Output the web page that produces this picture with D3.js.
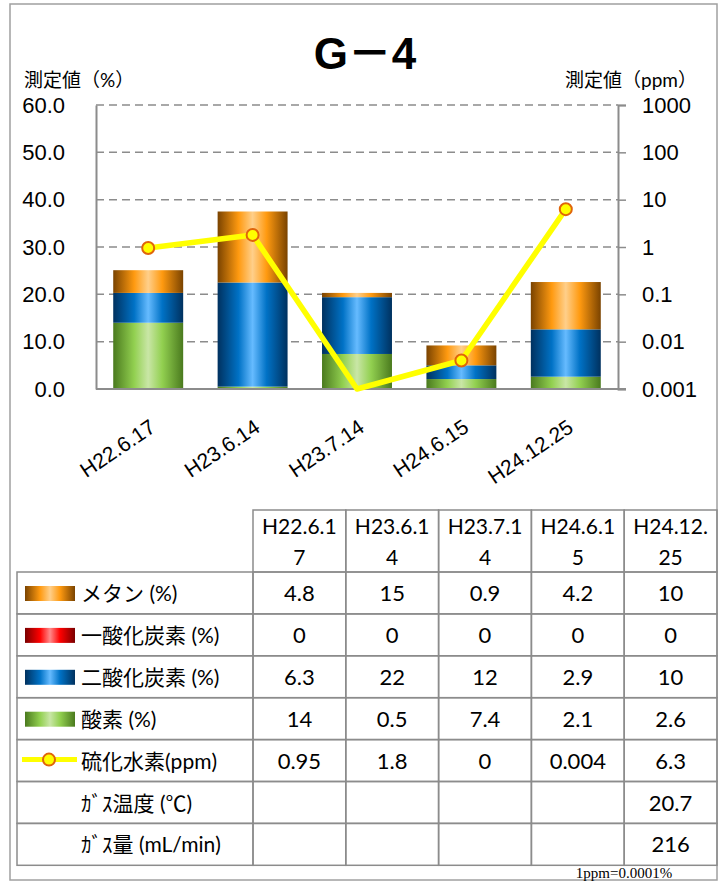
<!DOCTYPE html>
<html>
<head>
<meta charset="utf-8">
<script src="https://cdn.jsdelivr.net/npm/d3@7"></script>
<style>
	body { margin: 0; background: #fff; }
	svg { display: block; font-family: Lato, "Noto Sans CJK JP", sans-serif; }
</style>
</head>
<body>
<svg id="imagen" width="719" height="881"></svg>
<script>
var categories = ["H22.6.17", "H23.6.14", "H23.7.14", "H24.6.15", "H24.12.25"];
var metano = [4.8, 15, 0.9, 4.2, 10];
var monoxido = [0, 0, 0, 0, 0];
var dioxido = [6.3, 22, 12, 2.9, 10];
var oxigeno = [14, 0.5, 7.4, 2.1, 2.6];
var sulfuro = [0.95, 1.8, 0, 0.004, 6.3];
var temperatura = ["", "", "", "", "20.7"];
var caudal = ["", "", "", "", "216"];
var leftTicks = [0, 10, 20, 30, 40, 50, 60];
var rightTicks = [0.001, 0.01, 0.1, 1, 10, 100, 1000];

var series = [
	{ key: "oxigeno", values: oxigeno, grad: "gVerde" },
	{ key: "monoxido", values: monoxido, grad: "gRojo" },
	{ key: "dioxido", values: dioxido, grad: "gAzul" },
	{ key: "metano", values: metano, grad: "gNaranja" }
];

var margin = { top: 105, right: 101, bottom: 492, left: 96 };
var width = 719, height = 881;
const svg = d3.select("#imagen");

// gradientes horizontales tipo cilindro
var defs = svg.append("defs");
var grads = {
	gNaranja: ["#7a4300", "#ff9a10", "#ffcf8a", "#ff9a10", "#7a4300"],
	gRojo: ["#7a0000", "#ff0000", "#ff8a8a", "#ff0000", "#7a0000"],
	gAzul: ["#00315f", "#0072c6", "#66bbff", "#0072c6", "#00315f"],
	gVerde: ["#4a7a1e", "#92d050", "#c9e6a6", "#92d050", "#4a7a1e"]
};
Object.keys(grads).forEach(id => {
	var g = defs.append("linearGradient").attr("id", id).attr("x1", "0%").attr("x2", "100%").attr("y1", "0%").attr("y2", "0%");
	var stops = [0, 0.3, 0.5, 0.7, 1];
	grads[id].forEach((c, i) => g.append("stop").attr("offset", stops[i]).attr("stop-color", c));
});

// marco exterior
svg.append("rect")
	.attr("x", 10).attr("y", 4)
	.attr("width", 707).attr("height", 876)
	.attr("fill", "none").attr("stroke", "#a0a0a0").attr("stroke-width", 1.5);

var x0 = d3.scaleBand()
	.domain(categories)
	.range([margin.left, width - margin.right])
	.paddingInner(0.33)
	.paddingOuter(0.165);

var y = d3.scaleLinear()
	.domain([0, 60])
	.range([height - margin.bottom, margin.top]);

var y2 = d3.scaleLog()
	.domain([0.001, 1000])
	.range([height - margin.bottom, margin.top]);

var plotRight = width - margin.right;

// grilla
svg.append("g")
	.selectAll("line")
	.data(leftTicks.slice(1))
	.join("line")
	.attr("x1", margin.left).attr("x2", plotRight)
	.attr("y1", d => y(d)).attr("y2", d => y(d))
	.attr("stroke", "#8c8c8c").attr("stroke-width", 1.5)
	.attr("stroke-dasharray", "8,5");

// barras apiladas
var stack = d3.stack()
	.keys(series.map(s => s.key))
	.value((d, key) => d[key]);
var rows = categories.map((c, i) => {
	var r = { cat: c };
	series.forEach(s => r[s.key] = s.values[i]);
	return r;
});
var stacked = stack(rows);

svg.append("g")
	.selectAll("g")
	.data(stacked)
	.join("g")
	.attr("fill", (d, i) => `url(#${series[i].grad})`)
	.selectAll("rect")
	.data(d => d)
	.join("rect")
	.attr("x", d => x0(d.data.cat))
	.attr("y", d => y(d[1]))
	.attr("width", x0.bandwidth())
	.attr("height", d => y(d[0]) - y(d[1]));

// ejes
var yAxis = g => g
	.attr("transform", `translate(${margin.left},0)`)
	.call(d3.axisLeft(y).tickValues(leftTicks).tickSize(0).tickPadding(31).tickFormat(d3.format(".1f")))
	.call(g => g.select(".domain").attr("stroke", "#8c8c8c").attr("stroke-width", 2))
	.call(g => g.selectAll("text").attr("font-size", 22).attr("fill", "#000"));

var yAxis2 = g => g
	.attr("transform", `translate(${plotRight},0)`)
	.call(d3.axisRight(y2).tickValues(rightTicks).tickSize(8).tickPadding(16).tickFormat(d => d3.format("~g")(d)))
	.call(g => g.select(".domain").attr("stroke", "#8c8c8c").attr("stroke-width", 2))
	.call(g => g.selectAll(".tick line").attr("stroke", "#8c8c8c").attr("stroke-width", 1.5))
	.call(g => g.selectAll("text").attr("font-size", 22).attr("fill", "#000"));

var xAxis = g => g
	.attr("transform", `translate(0,${height - margin.bottom})`)
	.call(d3.axisBottom(x0).tickSize(0).tickSizeOuter(0))
	.call(g => g.select(".domain").attr("stroke", "#8c8c8c").attr("stroke-width", 2).attr("d", `M${margin.left},0H${plotRight + 8}`))
	.call(g => g.selectAll("text")
		.attr("font-size", 21).attr("fill", "#000")
		.attr("text-anchor", "end")
		.attr("transform", "translate(3,33) rotate(-34)")
		.attr("dy", "0.35em"));

svg.append("g").call(yAxis);
svg.append("g").call(yAxis2);
svg.append("g").call(xAxis);

// linea de sulfuro de hidrogeno
var xc = d => x0(d) + x0.bandwidth() / 2;
var lineData = categories.map((c, i) => ({ cat: c, v: sulfuro[i] }));
var line = d3.line()
	.x(d => xc(d.cat))
	.y(d => d.v > 0 ? y2(d.v) : y2(0.001));

svg.append("path")
	.datum(lineData)
	.attr("fill", "none")
	.attr("stroke", "#ffff00")
	.attr("stroke-width", 5.5)
	.attr("stroke-linejoin", "round")
	.attr("d", line);

svg.append("g")
	.selectAll("circle")
	.data(lineData.filter(d => d.v > 0))
	.join("circle")
	.attr("cx", d => xc(d.cat))
	.attr("cy", d => y2(d.v))
	.attr("r", 6)
	.attr("fill", "#ffff00")
	.attr("stroke", "#e0650a")
	.attr("stroke-width", 2);

// titulos
svg.append("text")
	.attr("x", 365).attr("y", 69)
	.attr("text-anchor", "middle")
	.attr("font-family", "'Liberation Sans', 'Noto Sans CJK JP', sans-serif")
	.attr("font-weight", "bold")
	.attr("font-size", 44)
	.text("G－4");

svg.append("text")
	.attr("x", 24).attr("y", 87)
	.attr("font-size", 19)
	.text("測定値（%）");

svg.append("text")
	.attr("x", 697).attr("y", 87)
	.attr("text-anchor", "end")
	.attr("font-size", 19)
	.text("測定値（ppm）");

// tabla de datos
var tabla = [
	{ label: "メタン (%)", values: metano.map(String), key: "gNaranja" },
	{ label: "一酸化炭素 (%)", values: monoxido.map(String), key: "gRojo" },
	{ label: "二酸化炭素 (%)", values: dioxido.map(String), key: "gAzul" },
	{ label: "酸素 (%)", values: oxigeno.map(String), key: "gVerde" },
	{ label: "硫化水素(ppm)", values: sulfuro.map(String), key: "linea" },
	{ label: "ｶﾞｽ温度 (℃)", values: temperatura, key: null },
	{ label: "ｶﾞｽ量 (mL/min)", values: caudal, key: null }
];

var colX = d3.scaleBand().domain(categories).range([253, 717]);
var headTop = 510, headBottom = 572, rowH = 41.9;
var rowY = i => headBottom + i * rowH;
var lineColor = "#8c8c8c";
var tg = svg.append("g");

// encabezado
tg.selectAll(".head")
	.data(categories)
	.join("rect")
	.attr("x", d => colX(d)).attr("y", headTop)
	.attr("width", colX.bandwidth()).attr("height", headBottom - headTop)
	.attr("fill", "none").attr("stroke", lineColor).attr("stroke-width", 1.5);

tg.selectAll(".headText")
	.data(categories)
	.join("text")
	.attr("text-anchor", "middle")
	.attr("font-size", 21)
	.each(function(d) {
		var t = d3.select(this);
		var cx = colX(d) + colX.bandwidth() / 2;
		t.append("tspan").attr("x", cx).attr("y", 534).text(d.slice(0, 7));
		t.append("tspan").attr("x", cx).attr("y", 565).text(d.slice(7));
	});

var filas = tg.selectAll(".fila")
	.data(tabla)
	.join("g")
	.attr("transform", (d, i) => `translate(0,${rowY(i)})`);

filas.append("rect")
	.attr("x", 17).attr("y", 0)
	.attr("width", 253 - 17).attr("height", rowH)
	.attr("fill", "none").attr("stroke", lineColor).attr("stroke-width", 1.5);

filas.selectAll(".celda")
	.data(d => d.values.map((v, j) => ({ v, cat: categories[j] })))
	.join("rect")
	.attr("x", d => colX(d.cat)).attr("y", 0)
	.attr("width", colX.bandwidth()).attr("height", rowH)
	.attr("fill", "none").attr("stroke", lineColor).attr("stroke-width", 1.5);

filas.selectAll(".valor")
	.data(d => d.values.map((v, j) => ({ v, cat: categories[j] })))
	.join("text")
	.attr("x", d => colX(d.cat) + colX.bandwidth() / 2)
	.attr("y", 29)
	.attr("text-anchor", "middle")
	.attr("font-size", 22)
	.text(d => d.v);

filas.append("text")
	.attr("x", 81).attr("y", 29)
	.attr("font-size", 21)
	.text(d => d.label);

filas.filter(d => d.key && d.key !== "linea")
	.append("rect")
	.attr("x", 25).attr("y", 14)
	.attr("width", 50).attr("height", 15)
	.attr("fill", d => `url(#${d.key})`);

var leyendaLinea = filas.filter(d => d.key === "linea");
leyendaLinea.append("line")
	.attr("x1", 22).attr("x2", 77)
	.attr("y1", 20).attr("y2", 20)
	.attr("stroke", "#ffff00").attr("stroke-width", 5);
leyendaLinea.append("circle")
	.attr("cx", 49).attr("cy", 20).attr("r", 6)
	.attr("fill", "#ffff00").attr("stroke", "#e0650a").attr("stroke-width", 2);

// nota
svg.append("text")
	.attr("x", 624).attr("y", 878)
	.attr("text-anchor", "middle")
	.attr("font-family", "'Liberation Serif', serif")
	.attr("font-size", 15)
	.text("1ppm=0.0001%");
</script>
</body>
</html>
